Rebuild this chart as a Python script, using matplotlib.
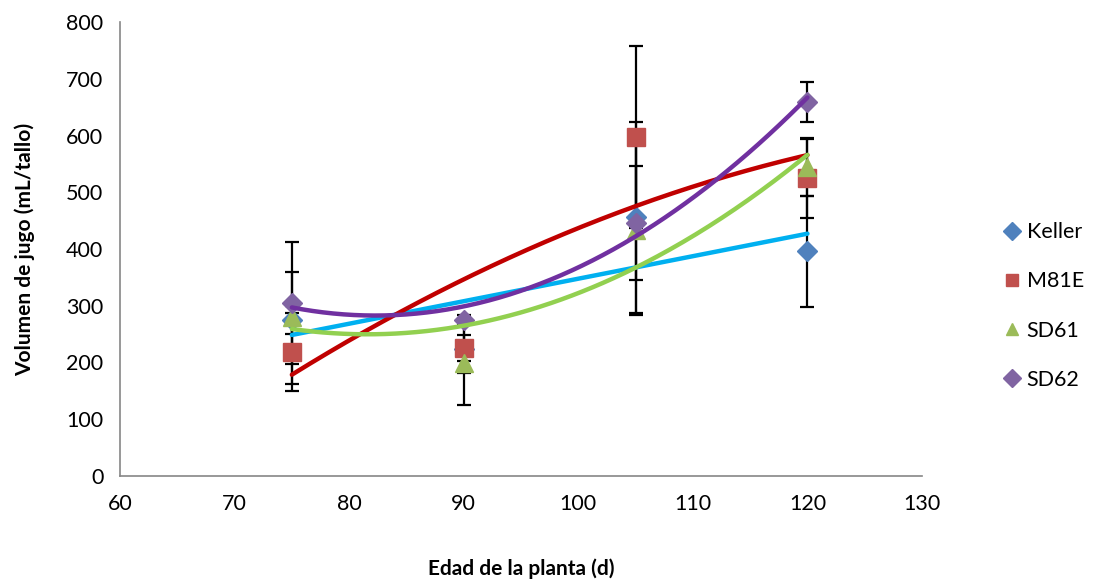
import numpy as np
import matplotlib
matplotlib.use("Agg")
import matplotlib.pyplot as plt

plt.rcParams['font.family'] = ['Lato', 'DejaVu Sans']

days = [75, 90, 105, 120]
series = ["Keller", "M81E", "SD61", "SD62"]
keller = [275, 224, 456, 396]
m81e = [219, 225, 597, 525]
sd61 = [281, 199, 433, 544]
sd62 = [305, 275, 446, 659]

keller_err_lo = [25, 43, 168, 98]
keller_err_hi = [25, 43, 168, 98]
m81e_err_lo = [69, 23, 160, 70]
m81e_err_hi = [69, 23, 160, 70]
sd61_err_lo = [119, 74, 150, 50]
sd61_err_hi = [79, 74, 150, 50]
sd62_err_lo = [107, 8, 100, 35]
sd62_err_hi = [107, 8, 100, 35]

trend_order = [1, 2, 2, 2]

x_ticks = [60, 70, 80, 90, 100, 110, 120, 130]
y_ticks = [0, 100, 200, 300, 400, 500, 600, 700, 800]

marker_colors = ["#4F81BD", "#C0504D", "#9BBB59", "#8064A2"]
line_colors = ["#00B0F0", "#C00000", "#92D050", "#7030A0"]
markers = ["D", "s", "^", "D"]
msizes = [10, 12.5, 12.5, 10]

fig = plt.figure(figsize=(11.01, 5.82), dpi=100)
ax = fig.add_axes([120/1101, 1 - 476/582, 802/1101, 454/582])

vals = [keller, m81e, sd61, sd62]
elo = [keller_err_lo, m81e_err_lo, sd61_err_lo, sd62_err_lo]
ehi = [keller_err_hi, m81e_err_hi, sd61_err_hi, sd62_err_hi]

x = np.array(days, dtype=float)
for i, name in enumerate(series):
    y = np.array(vals[i], dtype=float)
    ax.errorbar(x, y, yerr=[elo[i], ehi[i]], fmt='none', ecolor='black',
                elinewidth=1.6, capsize=5, capthick=1.6, zorder=2)
for i, name in enumerate(series):
    y = np.array(vals[i], dtype=float)
    ax.plot(x, y, linestyle='none', marker=markers[i], markersize=msizes[i],
            color=marker_colors[i], label=name, zorder=3)
for i, name in enumerate(series):
    y = np.array(vals[i], dtype=float)
    coef = np.polyfit(x, y, trend_order[i])
    xs = np.linspace(x.min(), x.max(), 200)
    ax.plot(xs, np.polyval(coef, xs), color=line_colors[i], lw=3.2,
            solid_capstyle='round', zorder=4)

ax.set_xlim(60, 130)
ax.set_ylim(0, 800)
ax.set_xticks(x_ticks)
ax.set_yticks(y_ticks)
ax.tick_params(length=0, labelsize=15.5, pad=12)
ax.tick_params(axis='x', pad=13)
for s in ['top', 'right']:
    ax.spines[s].set_visible(False)
for s in ['left', 'bottom']:
    ax.spines[s].set_color('#868686')
    ax.spines[s].set_linewidth(1.2)

ax.set_xlabel("Edad de la planta (d)", fontsize=15, fontweight='bold', labelpad=32)
ax.set_ylabel("Volumen de jugo (mL/tallo)", fontsize=15, fontweight='bold', labelpad=22)

leg = fig.legend(loc='center left', bbox_to_anchor=(1003/1101, 1 - 306/582),
                 frameon=False, fontsize=15.5, handlelength=0.8, handletextpad=0.3,
                 labelspacing=1.35, borderaxespad=0, borderpad=0)
for h in leg.legend_handles:
    h.set_markersize(9)

fig.savefig("out.png", dpi=100)
